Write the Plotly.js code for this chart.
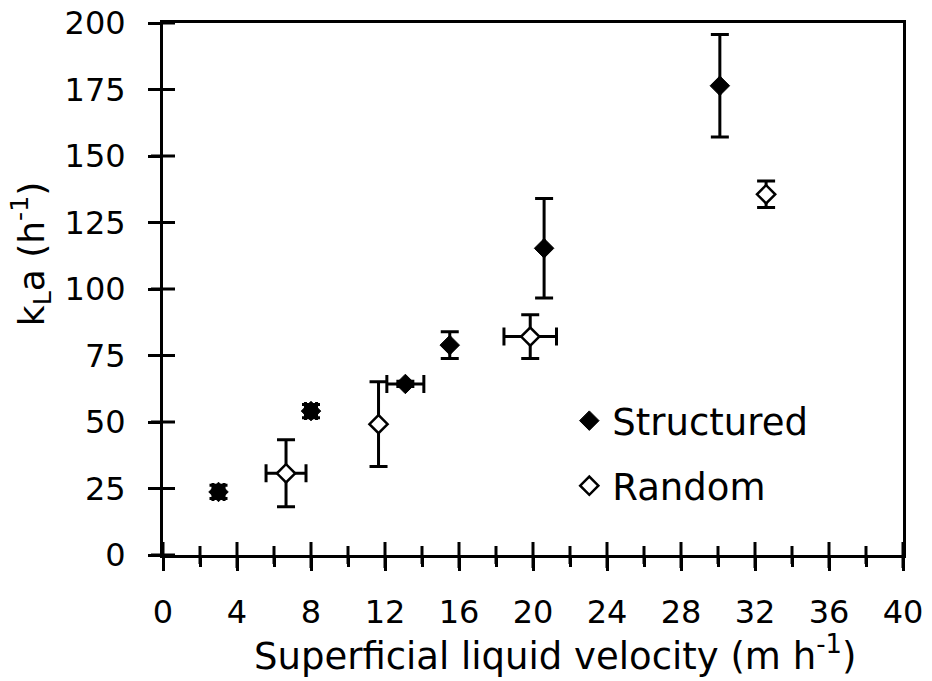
<!DOCTYPE html>
<html>
<head>
<meta charset="utf-8">
<script src="https://cdn.plot.ly/plotly-3.0.1.min.js"></script>
<style>html,body{margin:0;padding:0;background:#fff;}#chart{width:932px;height:681px;}</style>
</head>
<body>
<div id="chart"></div>
<script>
// Structured packing
const xStructured = [3.0, 8.0, 13.1, 15.5, 20.6, 30.1];
const yStructured = [23.7, 54.1, 64.3, 78.9, 115.3, 176.4];
const yErrStructured = [2.5, 2.5, 1.0, 5.0, 18.7, 19.3];
const xErrStructured = [0.3, 0.3, 1.0, 0, 0, 0];
// Random packing
const xRandom = [6.65, 11.65, 19.85, 32.6];
const yRandom = [30.7, 49.2, 82.1, 135.6];
const yErrRandom = [12.6, 15.9, 8.2, 5.0];
const xErrRandom = [1.08, 0, 1.42, 0];
// Axis ticks and titles
const xTickVals = [0, 4, 8, 12, 16, 20, 24, 28, 32, 36, 40];
const xMinorTickVals = [2, 6, 10, 14, 18, 22, 26, 30, 34, 38];
const yTickVals = [0, 25, 50, 75, 100, 125, 150, 175, 200];
const xTitle = 'Superficial liquid velocity (m h<sup>-1</sup>)';
const yTitle = 'k<sub>L</sub>a (h<sup>-1</sup>)';

const FONT = '"DejaVu Sans", sans-serif';
const W = 932, H = 681;
const M = {l: 163, r: 29, t: 23, b: 126};
const plotW = W - M.l - M.r, plotH = H - M.t - M.b;
const errStyle = {type: 'data', visible: true, color: '#000', thickness: 3, width: 9};

const traces = [
  {
    name: 'Structured', legendgroup: 'a',
    x: xStructured, y: yStructured, mode: 'markers', type: 'scatter',
    marker: {symbol: 'diamond', size: 15, color: '#000', line: {color: '#000', width: 1}},
    error_y: Object.assign({array: yErrStructured}, errStyle),
    error_x: Object.assign({array: xErrStructured}, errStyle),
    hoverinfo: 'x+y'
  },
  {
    name: 'Random', legendgroup: 'b',
    x: xRandom, y: yRandom, mode: 'markers', type: 'scatter',
    marker: {symbol: 'diamond', size: 14, color: '#fff', line: {color: '#000', width: 2.5}},
    error_y: Object.assign({array: yErrRandom}, errStyle),
    error_x: Object.assign({array: xErrRandom}, errStyle),
    hoverinfo: 'x+y'
  }
];

// Tick marks that cross the axis lines (both sides)
const tickLine = {color: '#000', width: 3};
const majX = 13 / plotH, minX = 9 / plotH, majY = 12 / plotW;
const crossTicks = []
  .concat(xTickVals.map(t => ({type: 'line', layer: 'above', xref: 'x', yref: 'paper',
    x0: t, x1: t, y0: -majX, y1: majX, line: tickLine})))
  .concat(xMinorTickVals.map(t => ({type: 'line', layer: 'above', xref: 'x', yref: 'paper',
    x0: t, x1: t, y0: -minX, y1: minX, line: tickLine})))
  .concat(yTickVals.map(t => ({type: 'line', layer: 'above', xref: 'paper', yref: 'y',
    x0: -majY, x1: majY, y0: t, y1: t, line: tickLine})));

const layout = {
  width: W, height: H,
  margin: M,
  paper_bgcolor: '#fff', plot_bgcolor: '#fff',
  font: {family: FONT, color: '#000', size: 32},
  showlegend: true,
  legend: {
    x: 0.545, y: 0.31, xanchor: 'left', yanchor: 'top',
    font: {family: FONT, size: 37, color: '#000'},
    bgcolor: 'rgba(0,0,0,0)', traceorder: 'grouped', tracegroupgap: 14,
    itemwidth: 36
  },
  xaxis: {
    type: 'linear',
    range: [0, 40], tickvals: xTickVals, ticktext: xTickVals.map(String),
    showgrid: false, zeroline: false,
    showline: true, linecolor: '#000', linewidth: 3, mirror: true,
    ticks: 'outside', ticklen: 13, tickwidth: 3, tickcolor: '#000',
    minor: {tickvals: xMinorTickVals, ticks: 'outside', ticklen: 9, tickwidth: 3, tickcolor: '#000', showgrid: false},
    tickfont: {family: FONT, size: 32, color: '#000'},
    ticklabelstandoff: 14,
    fixedrange: true
  },
  yaxis: {
    type: 'linear',
    range: [0, 200], tickvals: yTickVals, ticktext: yTickVals.map(String),
    showgrid: false, zeroline: false,
    showline: true, linecolor: '#000', linewidth: 3, mirror: true,
    ticks: 'outside', ticklen: 12, tickwidth: 3, tickcolor: '#000',
    tickfont: {family: FONT, size: 32, color: '#000'},
    ticklabelstandoff: 16,
    fixedrange: true
  },
  shapes: crossTicks,
  annotations: [
    {text: xTitle, xref: 'paper', yref: 'paper', x: 0.53, y: -0.186,
     xanchor: 'center', yanchor: 'middle', showarrow: false,
     font: {family: FONT, size: 37, color: '#000'}},
    {text: yTitle, xref: 'paper', yref: 'paper', x: -0.178, y: 0.566,
     xanchor: 'center', yanchor: 'middle', showarrow: false, textangle: -90,
     font: {family: FONT, size: 36, color: '#000'}}
  ]
};

Plotly.newPlot('chart', traces, layout, {displayModeBar: false, staticPlot: true});
</script>
</body>
</html>
